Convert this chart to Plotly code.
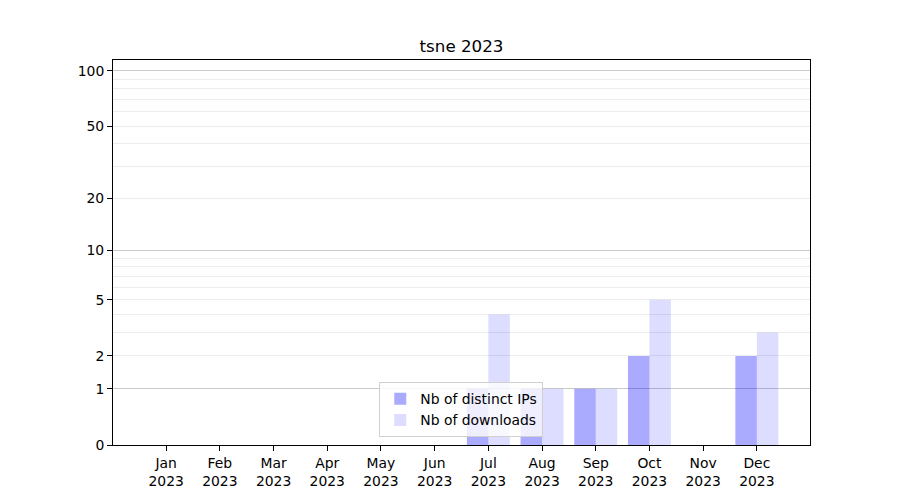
import numpy as np
import plotly.graph_objects as go

title = "tsne 2023"
months = ["Jan", "Feb", "Mar", "Apr", "May", "Jun", "Jul", "Aug", "Sep", "Oct", "Nov", "Dec"]
year = "2023"
distinct_ips = [0, 0, 0, 0, 0, 0, 1, 1, 1, 2, 0, 2]
downloads = [0, 0, 0, 0, 0, 0, 4, 1, 1, 5, 0, 3]
ytick_vals = [0, 1, 2, 5, 10, 20, 50, 100]
minor_grid_vals = [2, 3, 4, 5, 6, 7, 8, 9, 20, 30, 40, 50, 60, 70, 80, 90]
major_grid_vals = [1, 10, 100]
y_top = 114.2

# log(1 + x) scale: plot 1 + value on a log axis
def sh(v):
    return [1 + x for x in v]

cats = [f"{m}<br>{year}" for m in months]
FONT = "DejaVu Sans"

fig = go.Figure()
fig.add_trace(go.Bar(x=cats, y=sh(distinct_ips), name="Nb of distinct IPs",
                     marker=dict(color="rgba(0,0,255,0.333)", line=dict(width=0)),
                     offsetgroup="1", alignmentgroup="a", yaxis="y"))
fig.add_trace(go.Bar(x=cats, y=sh(downloads), name="Nb of downloads",
                     marker=dict(color="rgba(0,0,255,0.135)", line=dict(width=0)),
                     offsetgroup="2", alignmentgroup="a", yaxis="y2"))

yr = [0, float(np.log10(1 + y_top))]
fig.update_layout(
    width=900, height=500,
    margin=dict(l=105, r=98, t=52, b=63),
    paper_bgcolor="white", plot_bgcolor="white",
    font=dict(family=FONT, size=13.9, color="black"),
    title=dict(text=title, x=0.5, xref="paper", xanchor="center", y=1 - 38 / 500,
               yanchor="middle", yref="container", font=dict(size=16.7, color="black")),
    barmode="group", bargap=0.2, bargroupgap=0,
    showlegend=True,
    legend=dict(x=0.382, xanchor="left", y=0.02, yanchor="bottom",
                bgcolor="rgba(255,255,255,0.8)", bordercolor="#d0d0d0", borderwidth=1,
                font=dict(size=13.9), tracegroupgap=0, itemwidth=30),
    xaxis=dict(type="category", range=[-0.99, 11.99], showline=True, mirror=True,
               linecolor="black", linewidth=1, ticks="outside", ticklen=5, tickcolor="black",
               showgrid=False, zeroline=False, tickfont=dict(size=13.9)),
    yaxis=dict(type="log", range=yr, showline=True, mirror=True, linecolor="black",
               linewidth=1, ticks="outside", ticklen=5, tickcolor="black",
               tickvals=sh(ytick_vals), ticktext=[str(v) for v in ytick_vals],
               showgrid=False, zeroline=False,
               minor=dict(tickvals=sh(minor_grid_vals), showgrid=True,
                          gridcolor="#ececec", gridwidth=0.8, ticks="")),
    yaxis2=dict(type="log", range=yr, overlaying="y", side="left", showline=False,
                tickvals=sh(major_grid_vals), showticklabels=False, ticks="",
                showgrid=True, gridcolor="#cacaca", gridwidth=1, zeroline=False),
)
fig.write_html("out.html")
